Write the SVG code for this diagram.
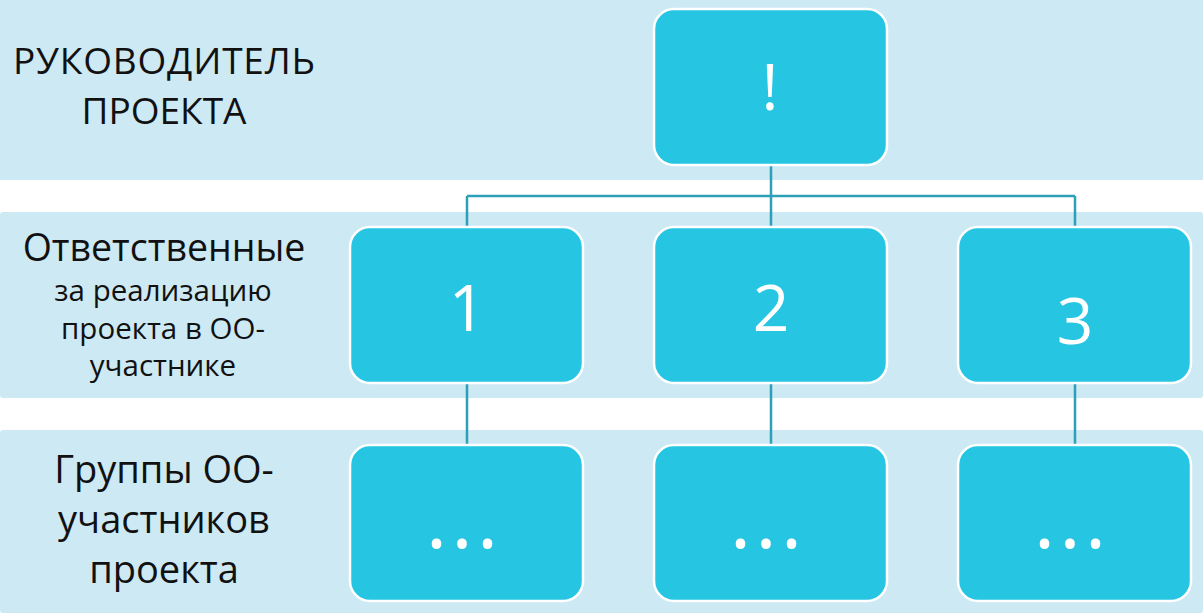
<svg xmlns="http://www.w3.org/2000/svg" width="1203" height="613" viewBox="0 0 1203 613">
<style>
.band{fill:#cde9f3}
.box{fill:#26c6e3;stroke:#ffffff;stroke-width:2.5}
.num{fill:#ffffff;font-family:"Open Sans","Noto Sans",sans-serif;font-size:64px;text-anchor:middle}
.dots{fill:#ffffff;font-family:"Open Sans","Noto Sans",sans-serif;font-size:82px;text-anchor:middle;letter-spacing:4px}
.lbl{fill:#111111;font-family:"Open Sans","Noto Sans",sans-serif;text-anchor:middle}
.conn{stroke:#2ba0b7;stroke-width:2.5;fill:none}
</style>
<rect width="1203" height="613" fill="#ffffff"/>
<g id="bands">
<rect class="band" x="0" y="0" width="1203" height="180"/>
<rect class="band" x="0" y="212" width="1203" height="186" rx="3"/>
<rect class="band" x="0" y="430" width="1203" height="183" rx="3"/>
</g>
<g id="connectors">
<path class="conn" d="M771,165 V227 M467,196 H1075 M467,196 V227 M1075,196 V227 M467,383 V445 M771,383 V445 M1075,383 V445"/>
</g>
<g id="labels">
<text class="lbl" font-size="37" x="164" y="74" textLength="302" lengthAdjust="spacing">РУКОВОДИТЕЛЬ</text>
<text class="lbl" font-size="37" x="164" y="124">ПРОЕКТА</text>
<text class="lbl" font-size="37.5" x="164" y="261">Ответственные</text>
<text class="lbl" font-size="29.5" x="163" y="301">за реализацию</text>
<text class="lbl" font-size="29.5" x="163" y="339">проекта в ОО-</text>
<text class="lbl" font-size="29.5" x="163" y="376">участнике</text>
<text class="lbl" font-size="38" x="164" y="483">Группы ОО-</text>
<text class="lbl" font-size="38" x="164" y="533">участников</text>
<text class="lbl" font-size="38" x="164" y="583">проекта</text>
</g>
<g id="node-top"><rect class="box" x="654" y="9" width="233" height="156" rx="20"/><text class="num" font-size="72" x="770" y="110">!</text></g>
<g id="node-1"><rect class="box" x="350" y="227" width="233" height="156" rx="20"/><text class="num" x="467" y="331">1</text></g>
<g id="node-2"><rect class="box" x="654" y="227" width="233" height="156" rx="20"/><text class="num" x="771" y="331">2</text></g>
<g id="node-3"><rect class="box" x="958" y="227" width="233" height="156" rx="20"/><text class="num" font-size="72" x="1075" y="344">3</text></g>
<g id="node-g1"><rect class="box" x="350" y="445" width="233" height="156" rx="20"/><text class="dots" x="464" y="548">...</text></g>
<g id="node-g2"><rect class="box" x="654" y="445" width="233" height="156" rx="20"/><text class="dots" x="768" y="548">...</text></g>
<g id="node-g3"><rect class="box" x="958" y="445" width="233" height="156" rx="20"/><text class="dots" x="1072" y="548">...</text></g>
</svg>
